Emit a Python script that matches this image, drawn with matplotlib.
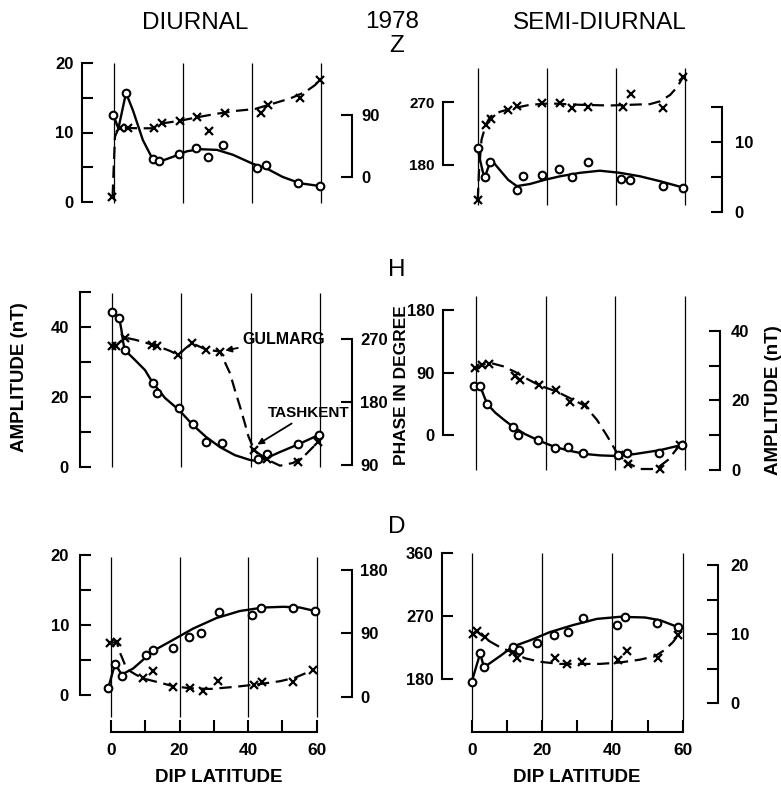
import matplotlib
matplotlib.use("Agg")
import matplotlib.pyplot as plt

plt.rcParams['font.family'] = ['Liberation Sans', 'DejaVu Sans']

# ---------------- data (dip latitude in degrees) ----------------
# Z, diurnal
z_d_amp_lat = [-0.3, 3.4, 11.1, 13.1, 18.8, 23.6, 27.1, 31.5, 41.5, 43.9, 53.4, 59.6]
z_d_amp = [12.5, 15.7, 6.2, 5.9, 6.9, 7.7, 6.5, 8.2, 4.9, 5.3, 2.7, 2.3]
z_d_amp_fit_lat = [-0.3, 1.2, 3.4, 5.4, 8.3, 11.1, 13.1, 17.0, 21.1, 24.8, 29.8, 34.4, 40.2, 44.3, 48.9, 53.9, 59.6]
z_d_amp_fit = [12.5, 10.6, 15.7, 13.2, 8.9, 6.2, 5.8, 6.5, 7.3, 7.6, 7.5, 6.8, 5.5, 4.8, 3.6, 2.7, 2.3]
z_d_ph_lat = [-0.8, 1.7, 4.1, 11.6, 13.8, 19.1, 23.9, 27.6, 32.1, 42.6, 44.7, 53.9, 59.6]
z_d_ph = [-28.5, 70.7, 70.7, 70.6, 78.0, 81.7, 86.6, 67.2, 93.3, 93.3, 104.5, 114.0, 140.8]
z_d_ph_fit_lat = [-0.5, -0.2, 0.2, 1.2, 4.0, 7.5, 11.2, 14.7, 19.1, 24.0, 29.2, 35.0, 40.8, 45.2, 51.0, 55.4, 58.3, 59.7]
z_d_ph_fit = [-28.6, 10.2, 58.5, 70.7, 71.1, 70.7, 70.7, 78.4, 81.7, 86.6, 91.4, 95.8, 98.7, 105.2, 113.9, 123.3, 133.5, 142.2]

# Z, semi-diurnal
z_s_ph_lat = [0.0, 2.3, 3.8, 8.8, 11.3, 18.5, 23.8, 27.2, 32.0, 42.1, 44.2, 53.5, 59.4]
z_s_ph = [130, 237, 245, 259, 264, 268, 268, 262, 263, 263, 282, 261, 306]
z_s_ph_fit_lat = [0.0, 0.4, 1.1, 2.3, 3.6, 6.4, 9.3, 15.1, 20.9, 29.6, 38.2, 44.0, 49.8, 52.7, 55.6, 57.6, 59.4]
z_s_ph_fit = [130, 173, 216, 237, 249, 256, 260, 266, 268, 266, 265, 266, 267, 271, 280, 291, 306]
z_s_amp_lat = [0.0, 2.1, 3.6, 11.3, 13.2, 18.5, 23.6, 27.2, 32.0, 41.3, 44.0, 53.5, 59.2]
z_s_amp = [9.1, 5.0, 7.2, 3.2, 5.1, 5.3, 6.1, 5.0, 7.2, 4.7, 4.6, 3.7, 3.5]
z_s_amp_fit_lat = [0.0, 0.7, 1.5, 2.1, 3.0, 3.7, 4.7, 6.4, 8.8, 11.3, 15.1, 19.4, 23.8, 29.6, 35.3, 41.1, 46.9, 52.7, 59.3]
z_s_amp_fit = [9.1, 7.4, 5.7, 5.0, 6.3, 7.1, 7.0, 6.0, 4.6, 3.7, 4.0, 4.6, 5.1, 5.6, 5.9, 5.6, 5.1, 4.4, 3.5]

# H, diurnal
h_d_amp_lat = [0.2, 2.2, 3.8, 11.8, 13.0, 19.4, 23.3, 27.2, 31.9, 42.2, 44.7, 53.8, 59.7]
h_d_amp = [44.3, 42.4, 33.3, 24.0, 21.0, 16.7, 12.2, 7.1, 6.7, 2.1, 3.6, 6.4, 9.1]
h_d_amp_fit_lat = [0.2, 2.2, 2.8, 3.3, 3.8, 6.7, 9.6, 11.8, 15.4, 19.4, 23.4, 27.2, 31.2, 35.5, 39.9, 42.2, 44.7, 48.5, 53.8, 59.7]
h_d_amp_fit = [44.3, 42.4, 39.1, 35.6, 33.3, 30.5, 27.6, 24.0, 19.6, 16.2, 11.9, 8.5, 5.6, 3.3, 1.9, 1.6, 2.5, 4.2, 6.4, 9.1]
h_d_ph_lat = [0.0, 1.2, 3.8, 11.5, 13.1, 19.2, 23.1, 27.2, 31.2, 41.1, 44.7, 53.6, 59.5]
h_d_ph = [260, 260, 272, 262, 260, 247, 264, 255, 252, 111, 98, 95, 123]
h_d_ph_fit_lat = [0.0, 1.2, 2.4, 3.8, 6.7, 9.6, 13.1, 16.8, 19.2, 21.1, 23.1, 25.4, 27.2, 31.2, 32.6,
                  34.1, 35.5, 37.0, 38.4, 39.4, 41.1, 44.7, 48.5, 52.3, 55.7, 59.5]
h_d_ph_fit = [260, 260, 266, 272, 269, 265, 260, 253, 247, 256, 264, 259, 255, 252, 237,
              221, 197, 173, 149, 131, 111, 98, 89, 93, 104, 123]

# H, semi-diurnal
h_s_ph_lat = [-0.2, 1.7, 3.7, 11.2, 12.5, 18.0, 22.9, 27.1, 31.4, 41.0, 43.5, 52.7, 58.7]
h_s_ph = [96, 101, 102, 85, 79, 72, 65, 48, 43, -29, -42, -49, -14]
h_s_ph_fit_lat = [-0.3, 1.7, 4.0, 7.8, 11.2, 14.6, 18.4, 23.0, 27.0, 31.3, 34.7, 37.6, 40.5, 43.4, 47.1, 51.7, 55.1, 58.6]
h_s_ph_fit = [94, 101, 104, 99, 91, 81, 71, 63, 53, 42, 22, -1, -26, -40, -49, -49, -36, -14]
h_s_amp_lat = [-0.7, 1.2, 3.2, 10.7, 12.1, 17.9, 22.7, 26.5, 30.8, 40.9, 43.3, 52.6, 59.1]
h_s_amp = [24.1, 24.1, 19.0, 12.4, 10.1, 8.6, 6.4, 6.5, 5.0, 4.3, 5.0, 5.0, 7.2]
h_s_amp_fit_lat = [-0.7, 1.2, 2.2, 3.2, 5.5, 8.3, 10.7, 14.1, 18.4, 22.7, 27.0, 31.3, 35.6, 40.8, 45.7, 52.8, 59.1]
h_s_amp_fit = [24.1, 24.1, 21.5, 19.0, 16.5, 14.2, 12.4, 10.3, 8.3, 6.6, 5.5, 4.6, 4.2, 4.0, 4.6, 5.7, 7.2]

# D, diurnal
d_d_amp_lat = [-0.8, 1.2, 3.1, 10.2, 12.3, 18.0, 22.8, 26.2, 31.5, 41.2, 43.9, 53.1, 59.5]
d_d_amp = [1.0, 4.4, 2.7, 5.7, 6.4, 6.7, 8.3, 8.9, 11.8, 11.4, 12.4, 12.5, 12.0]
d_d_amp_fit_lat = [-0.8, 1.2, 3.1, 6.5, 12.3, 18.2, 24.0, 30.8, 37.6, 44.4, 50.3, 55.1, 59.5]
d_d_amp_fit = [1.0, 4.5, 2.9, 3.8, 6.3, 7.9, 9.5, 11.0, 12.0, 12.5, 12.6, 12.5, 12.0]
d_d_ph_lat = [-0.3, 1.7, 9.4, 12.3, 18.2, 23.0, 26.8, 31.3, 41.6, 44.0, 53.2, 59.0]
d_d_ph = [76, 78, 26, 36, 14, 12, 8.5, 23, 17, 21, 21, 38]
d_d_ph_fit_lat = [-0.3, 1.7, 2.3, 3.1, 4.1, 5.0, 7.0, 9.3, 13.4, 18.1, 23.0, 28.9, 36.2, 43.5, 49.3, 53.7, 59.0]
d_d_ph_fit = [76, 78, 66, 57, 45, 38, 32, 26, 21, 15, 12, 11, 14, 18, 22, 27, 38]

# D, semi-diurnal
d_s_amp_lat = [0.0, 2.4, 3.5, 11.7, 13.5, 18.5, 23.5, 27.3, 31.7, 41.2, 43.6, 52.6, 58.7]
d_s_amp = [3.1, 7.2, 5.2, 8.2, 7.7, 8.7, 9.9, 10.3, 12.3, 11.3, 12.5, 11.6, 11.0]
d_s_amp_fit_lat = [0.0, 2.4, 3.5, 8.0, 11.7, 16.6, 22.3, 28.8, 35.6, 42.2, 49.3, 53.6, 58.7]
d_s_amp_fit = [3.1, 7.2, 5.2, 6.8, 8.2, 9.1, 10.3, 11.3, 12.2, 12.5, 12.4, 12.0, 11.0]
d_s_ph_lat = [0.4, 1.6, 3.8, 11.7, 13.0, 23.7, 27.0, 31.5, 41.7, 44.1, 53.1, 58.7]
d_s_ph = [245, 249, 240, 219, 211, 211, 202, 205, 207, 220, 211, 243]
d_s_ph_fit_lat = [0.4, 1.6, 3.8, 5.2, 8.0, 11.7, 15.2, 19.4, 25.1, 30.8, 36.5, 42.1, 47.8, 52.1, 54.9, 57.2, 58.7]
d_s_ph_fit = [245, 248, 239, 234, 226, 218, 210, 205, 202, 202, 202, 204, 208, 213, 222, 233, 243]

grid_lat = [0, 20, 40, 60]
x_ticks = [0, 10, 20, 30, 40, 50, 60]
x_ticklabels = ['0', '', '20', '', '40', '', '60']

# ---------------- figure ----------------
W, H = 781, 790
fig = plt.figure(figsize=(W / 100, H / 100), dpi=100)
BOLD = dict(fontweight='bold')
TICK_SIZE = 12


def make_panel(box, xmap, lmap, rmap, lsp, rsp, grid_px, bottom_px=None):
    L, T, R, B = box
    ax = fig.add_axes([L / W, 1 - B / H, (R - L) / W, (B - T) / H])
    fx = lambda px: (px - xmap[0]) / xmap[1]
    fl = lambda py: lmap[1] + (lmap[0] - py) / lmap[2]
    fr = lambda py: rmap[1] + (rmap[0] - py) / rmap[2]
    ax.set_xlim(fx(L), fx(R))
    ax.set_ylim(fl(B), fl(T))
    ax2 = ax.twinx()
    ax2.set_ylim(fr(B), fr(T))
    for a in (ax, ax2):
        a.patch.set_visible(False)
        for s in a.spines.values():
            s.set_visible(False)
    # left bracket
    sp = ax.spines['left']
    sp.set_visible(True)
    sp.set_linewidth(1.5)
    sp.set_position(('data', fx(lsp['px'])))
    sp.set_bounds(lsp['lo'], lsp['hi'])
    ax.set_yticks(lsp['ticks'])
    ax.set_yticklabels(lsp['labels'], **BOLD)
    ax.tick_params(axis='y', direction='in', length=8, width=1.5,
                   pad=lsp.get('pad', 6), labelsize=lsp.get('size', TICK_SIZE))
    # right bracket
    sp = ax2.spines['right']
    sp.set_visible(True)
    sp.set_linewidth(1.5)
    sp.set_position(('data', fx(rsp['px'])))
    sp.set_bounds(rsp['lo'], rsp['hi'])
    ax2.set_yticks(rsp['ticks'])
    ax2.set_yticklabels(rsp['labels'], **BOLD)
    ax2.tick_params(axis='y', direction='in', length=8, width=1.5,
                    pad=rsp.get('pad', 7), labelsize=rsp.get('size', TICK_SIZE))
    # vertical grid lines
    ax.vlines(grid_lat, fl(grid_px[1]), fl(grid_px[0]), colors='black',
              linewidth=0.9, zorder=1)
    if bottom_px is not None:
        sp = ax.spines['bottom']
        sp.set_visible(True)
        sp.set_linewidth(1.5)
        sp.set_position(('data', fl(bottom_px)))
        sp.set_bounds(0, 60)
        ax.set_xticks(x_ticks)
        ax.set_xticklabels(x_ticklabels, **BOLD)
        ax.tick_params(axis='x', direction='in', length=9, width=1.5,
                       pad=8, labelsize=12.5)
    else:
        ax.set_xticks([])
    return ax, ax2, fx, fl, fr


def draw(ax_amp, ax_ph, amp_lat, amp, amp_fit_lat, amp_fit,
         ph_lat, ph, ph_fit_lat, ph_fit):
    ax_amp.plot(amp_fit_lat, amp_fit, color='black', linewidth=1.7,
                solid_joinstyle='round', zorder=3)
    ax_ph.plot(ph_fit_lat, ph_fit, color='black', linewidth=1.6,
               dashes=(5.5, 3), zorder=3)
    ax_amp.plot(amp_lat, amp, 'o', markersize=5.5, markerfacecolor='white',
                markeredgecolor='black', markeredgewidth=1.5, zorder=5)
    ax_ph.plot(ph_lat, ph, 'x', markersize=6, markeredgewidth=1.6,
               color='black', zorder=5)


# P1: Z diurnal
a1, b1, fx1, fl1, fr1 = make_panel(
    (55, 55, 385, 215), (114.3, 3.445), (202, 0, 6.95), (177, 0, 0.689),
    dict(px=82, lo=0, hi=20, ticks=[0, 5, 10, 15, 20], labels=['0', '', '10', '', '20']),
    dict(px=352, lo=0, hi=90, ticks=[0, 90], labels=['0', '90']),
    (63, 203))
draw(a1, b1, z_d_amp_lat, z_d_amp, z_d_amp_fit_lat, z_d_amp_fit,
     z_d_ph_lat, z_d_ph, z_d_ph_fit_lat, z_d_ph_fit)

# P2: Z semi-diurnal
a2, b2, fx2, fl2, fr2 = make_panel(
    (415, 55, 760, 218), (477.7, 3.46), (165, 180, 0.7), (212, 0, 7.0),
    dict(px=443, lo=180, hi=270, ticks=[180, 270], labels=['180', '270'], size=11),
    dict(px=722, lo=0, hi=15, ticks=[0, 5, 10, 15], labels=['0', '', '10', ''], pad=9),
    (68, 205))
draw(b2, a2, z_s_amp_lat, z_s_amp, z_s_amp_fit_lat, z_s_amp_fit,
     z_s_ph_lat, z_s_ph, z_s_ph_fit_lat, z_s_ph_fit)

# P3: H diurnal
a3, b3, fx3, fl3, fr3 = make_panel(
    (55, 285, 385, 480), (111.7, 3.47), (466.7, 0, 3.5), (465, 90, 0.7),
    dict(px=80, lo=0, hi=50, ticks=[0, 10, 20, 30, 40, 50], labels=['0', '', '20', '', '40', ''], pad=8),
    dict(px=352, lo=90, hi=270, ticks=[90, 180, 270], labels=['90', '180', '270'], pad=6),
    (293, 467))
draw(a3, b3, h_d_amp_lat, h_d_amp, h_d_amp_fit_lat, h_d_amp_fit,
     h_d_ph_lat, h_d_ph, h_d_ph_fit_lat, h_d_ph_fit)
arrow = dict(arrowstyle='-|>', color='black', linewidth=1.3, mutation_scale=9,
             shrinkA=1, shrinkB=2)
b3.annotate('GULMARG', xy=(fx3(222.5), fr3(351)), xytext=(fx3(242), fr3(339)),
            ha='left', va='center', fontsize=11.5, arrowprops=arrow, **BOLD)
b3.annotate('TASHKENT', xy=(fx3(255), fr3(446)), xytext=(fx3(268), fr3(413)),
            ha='left', va='center', fontsize=11, arrowprops=arrow, **BOLD)

# P4: H semi-diurnal
a4, b4, fx4, fl4, fr4 = make_panel(
    (415, 290, 760, 480), (476, 3.483), (435, 0, 0.694), (470, 0, 3.48),
    dict(px=443, lo=0, hi=180, ticks=[0, 90, 180], labels=['0', '90', '180']),
    dict(px=720, lo=0, hi=40, ticks=[0, 10, 20, 30, 40], labels=['0', '', '20', '', '40'], pad=8),
    (296, 470))
draw(b4, a4, h_s_amp_lat, h_s_amp, h_s_amp_fit_lat, h_s_amp_fit,
     h_s_ph_lat, h_s_ph, h_s_ph_fit_lat, h_s_ph_fit)

# P5: D diurnal
a5, b5, fx5, fl5, fr5 = make_panel(
    (55, 545, 385, 765), (111, 3.428), (695, 0, 7.0), (696.7, 0, 0.704),
    dict(px=80, lo=0, hi=20, ticks=[0, 5, 10, 15, 20], labels=['0', '', '10', '', '20'], pad=8),
    dict(px=352, lo=0, hi=180, ticks=[0, 90, 180], labels=['0', '90', '180'], pad=6),
    (557, 717), bottom_px=732)
draw(a5, b5, d_d_amp_lat, d_d_amp, d_d_amp_fit_lat, d_d_amp_fit,
     d_d_ph_lat, d_d_ph, d_d_ph_fit_lat, d_d_ph_fit)

# P6: D semi-diurnal
a6, b6, fx6, fl6, fr6 = make_panel(
    (415, 545, 760, 765), (471.7, 3.517), (679.3, 180, 0.7), (703.3, 0, 6.92),
    dict(px=442, lo=180, hi=360, ticks=[180, 270, 360], labels=['180', '270', '360']),
    dict(px=718, lo=0, hi=20, ticks=[0, 5, 10, 15, 20], labels=['0', '', '10', '', '20'], pad=9),
    (553, 720), bottom_px=732)
draw(b6, a6, d_s_amp_lat, d_s_amp, d_s_amp_fit_lat, d_s_amp_fit,
     d_s_ph_lat, d_s_ph, d_s_ph_fit_lat, d_s_ph_fit)

# ---------------- texts ----------------
def ftext(px, py, s, **kw):
    fig.text(px / W, 1 - py / H, s, ha='center', va='center', **kw)

ftext(195, 23, 'DIURNAL', fontsize=17.5)
ftext(392, 22, '1978', fontsize=17.5)
ftext(600, 23, 'SEMI-DIURNAL', fontsize=17.5)
ftext(397, 46, 'Z', fontsize=17.5)
ftext(397, 270, 'H', fontsize=17.5)
ftext(397, 527, 'D', fontsize=17.5)
ftext(20, 377, 'AMPLITUDE (nT)', rotation=90, fontsize=13.5, **BOLD)
ftext(401, 385, 'PHASE IN DEGREE', rotation=90, fontsize=12.5, **BOLD)
ftext(773, 400, 'AMPLITUDE (nT)', rotation=90, fontsize=13.5, **BOLD)
ftext(219, 778, 'DIP LATITUDE', fontsize=13.5, **BOLD)
ftext(577, 778, 'DIP LATITUDE', fontsize=13.5, **BOLD)

fig.savefig('out.png', dpi=100)
